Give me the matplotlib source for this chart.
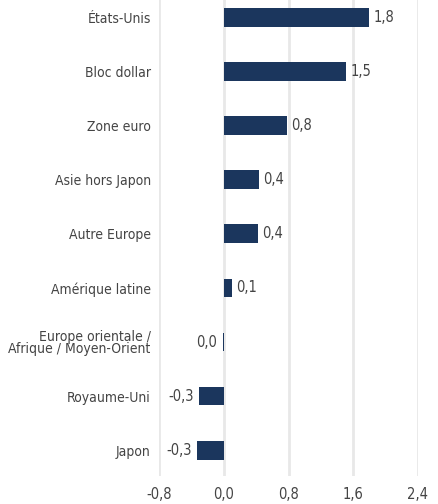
import matplotlib
matplotlib.use("Agg")
import matplotlib.pyplot as plt

# Données
regions = [
    "États-Unis", "Bloc dollar", "Zone euro", "Asie hors Japon", "Autre Europe",
    "Amérique latine", "Europe orientale /\nAfrique / Moyen-Orient", "Royaume-Uni", "Japon",
]
valeurs = [1.80, 1.51, 0.78, 0.44, 0.42, 0.10, -0.01, -0.30, -0.33]
graduations = [-0.8, 0.0, 0.8, 1.6, 2.4]

plt.rcParams["font.family"] = ["DejaVu Sans"]
plt.rcParams["font.stretch"] = "condensed"

bleu = "#1b365d"
gris_texte = "#444444"

fig = plt.figure(figsize=(4.38, 5.04), dpi=100)
ax = fig.add_axes([159 / 438, 28 / 504, (418 - 159) / 438, 476 / 504])

y = list(range(len(regions)))
ax.barh(y, valeurs, height=0.35, color=bleu, zorder=3)

for yi, v in zip(y, valeurs):
    txt = f"{v:.1f}".replace(".", ",")
    if txt == "-0,0":
        txt = "0,0"
    if v >= 0:
        ax.annotate(txt, (v, yi), xytext=(3, 0), textcoords="offset points",
                    ha="left", va="center", fontsize=10.5, color=gris_texte)
    else:
        ax.annotate(txt, (v, yi), xytext=(-4, 0), textcoords="offset points",
                    ha="right", va="center", fontsize=10.5, color=gris_texte)

ax.set_xlim(-0.8, 2.4)
ax.set_ylim(8.48, -0.33)
ax.set_xticks(graduations)
ax.set_xticklabels([f"{g:.1f}".replace(".", ",") for g in graduations], fontsize=10.5)
ax.set_yticks(y)
ax.set_yticklabels(regions, linespacing=0.85, fontsize=10)
ax.tick_params(axis="both", length=0, labelcolor=gris_texte)
ax.tick_params(axis="y", pad=6)
ax.tick_params(axis="x", pad=8)
ax.grid(axis="x", color="#e8e8e8", linewidth=2, zorder=0)
for s in ax.spines.values():
    s.set_visible(False)

fig.savefig("out.png", dpi=100)
